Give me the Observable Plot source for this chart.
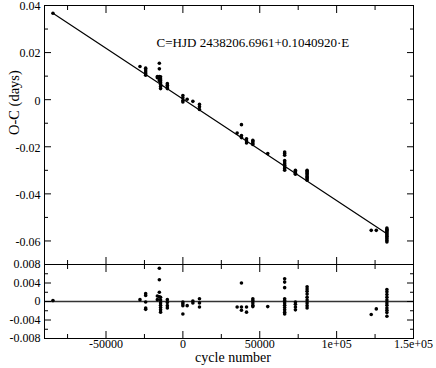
<!DOCTYPE html>
<html>
<head>
<meta charset="utf-8">
<script src="https://cdn.jsdelivr.net/npm/d3@7"></script>
<script src="https://cdn.jsdelivr.net/npm/@observablehq/plot@0.6"></script>
<style>
  html, body { margin: 0; padding: 0; background: #fff; }
  #chart { position: relative; width: 436px; height: 368px; overflow: hidden; }
  #chart svg { position: absolute; left: 0; overflow: visible; }
  #chart svg, #chart svg text { font-family: 'Liberation Serif', 'Times New Roman', serif !important; }
</style>
</head>
<body>
<div id="chart"></div>
<script>
// ---- data ----
const clusterCycles = [-84500, -27900, -24200, -16600, -15300, -14500, -10100, 0, 2800, 6500, 10800,
  35300, 38100, 41400, 45500, 55200, 66200, 73200, 80800, 122500, 125800, 132700];

const ocValues = [
  [0.0367],
  [0.0141],
  [0.0134, 0.0126, 0.0118, 0.0110, 0.0104],
  [0.0098, 0.0093],
  [0.0155, 0.0131, 0.0098, 0.0088, 0.0081],
  [0.0097, 0.0088, 0.0080, 0.0072, 0.0064, 0.0056, 0.0047],
  [0.0068, 0.0061, 0.0054, 0.0047],
  [0.0018, 0.0008, -0.0004, -0.0010],
  [0.0002],
  [-0.0007],
  [-0.0020, -0.0030, -0.0042],
  [-0.0142],
  [-0.0106, -0.0152, -0.0161],
  [-0.0166, -0.0175, -0.0184],
  [-0.0172, -0.0178, -0.0184, -0.0190],
  [-0.0229],
  [-0.0222, -0.0229, -0.0236, -0.0258, -0.0265, -0.0272, -0.0279, -0.0286, -0.0293, -0.0300],
  [-0.0300, -0.0306, -0.0312, -0.0317],
  [-0.0300, -0.0305, -0.0310, -0.0315, -0.0320, -0.0326, -0.0331, -0.0336, -0.0342],
  [-0.0555],
  [-0.0555],
  [-0.0545, -0.0550, -0.0555, -0.0560, -0.0565, -0.0570, -0.0575, -0.0580, -0.0586, -0.0592, -0.0598, -0.0604]
];

const residualValues = [
  [0.0002],
  [0.0004],
  [0.0017, 0.0013, -0.0001, -0.0014, -0.0017],
  [0.0012, 0.0004],
  [0.0072, 0.0047, 0.0020, 0.0010],
  [0.0009, 0.0003, -0.0003, -0.0008, -0.0013, -0.0018, -0.0023],
  [0.0004, -0.0002, -0.0009, -0.0014],
  [-0.0001, -0.0005, -0.0009, -0.0027],
  [-0.0009],
  [0.0001, -0.0003],
  [0.0006, -0.0003, -0.0012],
  [-0.0012],
  [0.0040, -0.0012, -0.0019],
  [-0.0012, -0.0023],
  [0.0006, 0.0002, -0.0003, -0.0008, -0.0011],
  [-0.0011],
  [0.0049, 0.0042, 0.0030, 0.0006, 0.0002, -0.0003, -0.0008, -0.0013, -0.0018, -0.0023, -0.0027],
  [-0.0001, -0.0006, -0.0012, -0.0018],
  [0.0032, 0.0027, 0.0022, 0.0016, 0.0009, 0.0003, -0.0003, -0.0009, -0.0014],
  [-0.0028],
  [-0.0016],
  [0.0026, 0.0021, 0.0015, 0.0009, 0.0003, -0.0003, -0.0008, -0.0014, -0.0019, -0.0024, -0.0032]
];

// linear ephemeris fit line end points
const fitCycles = [-84500, 132700];
const fitOC = [0.0367, -0.0569];

// ticks and labels
const xMajorTicks = [-50000, 0, 50000, 100000, 150000];
const xTickLabels = ["-50000", "0", "50000", "1e+05", "1.5e+05"];
const xMinorTicks = [-75000, -25000, 25000, 75000, 125000];
const ocMajorTicks = [0.04, 0.02, 0, -0.02, -0.04, -0.06];
const ocTickLabels = ["0.04", "0.02", "0", "-0.02", "-0.04", "-0.06"];
const ocMinorTicks = [0.03, 0.01, -0.01, -0.03, -0.05, -0.07];
const resMajorTicks = [0.008, 0.004, 0, -0.004, -0.008];
const resTickLabels = ["0.008", "0.004", "0", "-0.004", "-0.008"];
const resMinorTicks = [0.006, 0.002, -0.002, -0.006];

const ephemeris = "C=HJD 2438206.6961+0.1040920·E";

// ---- build tables ----
const topData = clusterCycles.flatMap((c, i) => ocValues[i].map(v => ({cycle: c, oc: v})));
const resData = clusterCycles.flatMap((c, i) => residualValues[i].map(v => ({cycle: c, res: v})));
const fitData = fitCycles.map((c, i) => ({cycle: c, oc: fitOC[i]}));

const FONT = "'Liberation Serif', 'Times New Roman', serif";
const xDomain = [-90000, 150000];
const fmt = (ticks, labels) => d => { const i = ticks.findIndex(t => Math.abs(t - d) < 1e-12); return i >= 0 ? labels[i] : ""; };

function frameTicks(yMajor, yMinor, showXLabels) {
  const m = [];
  for (const anchor of ["bottom", "top"]) {
    m.push(Plot.axisX(xMajorTicks, {anchor, tickSize: -7, fill: "none", label: null, stroke: "#000"}));
    m.push(Plot.axisX(xMinorTicks, {anchor, tickSize: -4, fill: "none", label: null, stroke: "#000"}));
  }
  for (const anchor of ["left", "right"]) {
    m.push(Plot.axisY(yMajor, {anchor, tickSize: -7, fill: "none", label: null, stroke: "#000"}));
    m.push(Plot.axisY(yMinor, {anchor, tickSize: -4, fill: "none", label: null, stroke: "#000"}));
  }
  if (showXLabels) {
    m.push(Plot.axisX(xMajorTicks, {anchor: "bottom", tickSize: 0, tickPadding: 1, label: null,
      tickFormat: fmt(xMajorTicks, xTickLabels), fill: "#000", fontSize: 12, fontFamily: FONT}));
  }
  return m;
}

const topPlot = Plot.plot({
  width: 436, height: 270,
  marginTop: 5, marginBottom: 6, marginLeft: 44, marginRight: 23,
  style: {fontFamily: FONT, overflow: "visible", background: "transparent"},
  x: {domain: xDomain, axis: null},
  y: {domain: [-0.07, 0.04], axis: null},
  marks: [
    Plot.line(fitData, {x: "cycle", y: "oc", stroke: "#000", strokeWidth: 1.2}),
    Plot.dot(topData, {x: "cycle", y: "oc", r: 1.8, fill: "#000", stroke: "none"}),
    Plot.text([ephemeris], {x: -17100, y: 0.0243, textAnchor: "start", fontSize: 13, fill: "#000", fontFamily: FONT}),
    ...frameTicks(ocMajorTicks, ocMinorTicks, false),
    Plot.axisY(ocMajorTicks, {anchor: "left", tickSize: 0, tickPadding: 4, label: null, dy: 1,
      tickFormat: fmt(ocMajorTicks, ocTickLabels), fill: "#000", fontSize: 12, fontFamily: FONT}),
    Plot.text(["O-C (days)"], {frameAnchor: "left", dx: -30, rotate: -90, fontSize: 14.5, fill: "#000", fontFamily: FONT}),
    Plot.frame({stroke: "#000", strokeWidth: 1})
  ]
});

const bottomPlot = Plot.plot({
  width: 436, height: 110,
  marginTop: 6, marginBottom: 30, marginLeft: 44, marginRight: 23,
  style: {fontFamily: FONT, overflow: "visible", background: "transparent"},
  x: {domain: xDomain, axis: null},
  y: {domain: [-0.008, 0.008], axis: null},
  marks: [
    Plot.ruleY([0], {stroke: "#333", strokeWidth: 1.5}),
    Plot.dot(resData, {x: "cycle", y: "res", r: 1.8, fill: "#000", stroke: "none"}),
    ...frameTicks(resMajorTicks, resMinorTicks, true),
    Plot.axisY(resMajorTicks, {anchor: "left", tickSize: 0, tickPadding: 4, label: null,
      tickFormat: fmt(resMajorTicks, resTickLabels), fill: "#000", fontSize: 12, fontFamily: FONT}),
    Plot.text(["cycle number"], {frameAnchor: "bottom", dx: 4, dy: 23.5, fontSize: 14, fill: "#000", fontFamily: FONT}),
    Plot.frame({stroke: "#000", strokeWidth: 1})
  ]
});

const chart = document.getElementById("chart");
topPlot.style.top = "0px";
bottomPlot.style.top = "258px";
chart.appendChild(topPlot);
chart.appendChild(bottomPlot);
</script>
</body>
</html>
